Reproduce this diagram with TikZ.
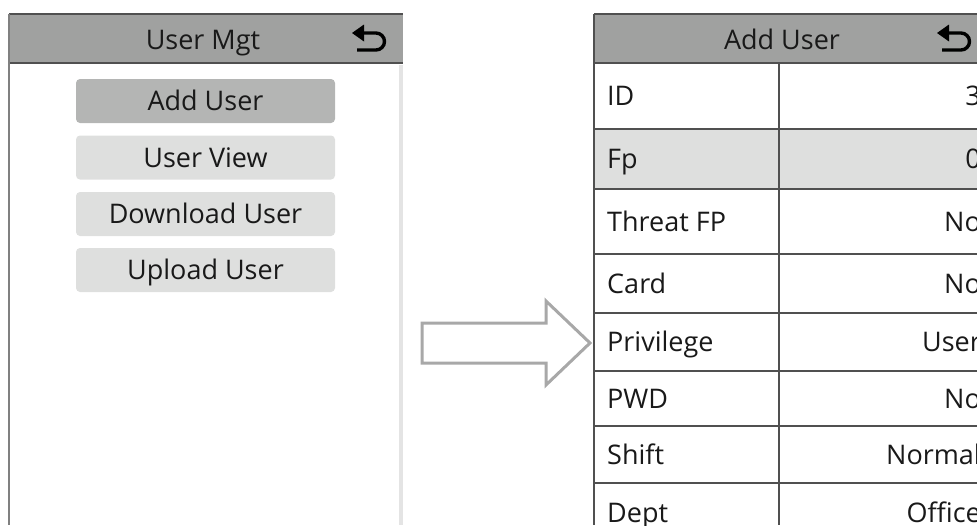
\documentclass[tikz,border=0pt]{standalone}
\usepackage{fontspec}
\setmainfont{Open Sans}
\usetikzlibrary{calc}
\definecolor{hdrgray}{RGB}{160,161,160}
\definecolor{selgray}{RGB}{180,181,180}
\definecolor{btngray}{RGB}{222,223,222}
\definecolor{rulegray}{RGB}{80,80,80}
\definecolor{arrowgray}{RGB}{168,168,168}
\definecolor{edgegray}{RGB}{228,228,228}
\definecolor{inkgray}{RGB}{25,25,25}
\newcommand{\backicon}[1]{%
  \fill (#1) -- ++(12,-8.5) -- ++(0,17) -- cycle;
  \draw[line width=3.4pt] ($(#1)+(10,0)$) -- ++(14,0) arc(-90:90:8.5) -- ++(-19,0);}
\begin{document}
\begin{tikzpicture}[x=1pt,y=-1pt,
    font=\fontsize{27}{32}\selectfont, text=inkgray,
    txt/.style={text height=19.3pt, text depth=0pt, inner sep=0pt},
    btn/.style={txt, rounded corners=4pt, minimum width=259pt, minimum height=44pt, fill=btngray},
    hdrline/.style={rulegray, line width=2.2pt},
    cell/.style={rulegray, line width=2pt}]
  \useasboundingbox (0,0) rectangle (977,525);
  \clip (0,0) rectangle (977,525);
  % left screen
  \fill[hdrgray] (9,14) rectangle (403,63);
  \draw[hdrline] (9,14) -- (403,14);
  \draw[hdrline] (9,63) -- (403,63);
  \draw[gray, line width=1.6pt] (9,14) -- (9,525);
  \draw[edgegray, line width=4pt] (401,65) -- (401,525);
  \node[txt] (mgt) at (203,40) {User Mgt};
  \coordinate (backl) at (352,33);
  \backicon{backl}
  \node[btn, fill=selgray] (btn0) at (205.5,101) {Add User};
  \node[btn] (btn1) at (205.5,157.5) {User View};
  \node[btn] (btn2) at (205.5,214) {Download User};
  \node[btn] (btn3) at (205.5,270) {Upload User};
  % big arrow
  \draw[arrowgray, line width=3pt, line join=miter] (422,323) -- (546,323) -- (546,301)
    -- (590,343) -- (546,385) -- (546,363) -- (422,363) -- cycle;
  % right screen
  \fill[hdrgray] (594,14) rectangle (977,63);
  \fill[btngray] (594,129) rectangle (977,189);
  \draw[hdrline] (594,14) -- (977,14);
  \draw[hdrline] (594,63) -- (977,63);
  \node[txt] (add) at (782,40) {Add User};
  \coordinate (backr) at (937,33);
  \backicon{backr}
  \foreach \ya/\yb/\lbl/\val [count=\i] in {63/129/ID/3, 129/189/Fp/0,
      189/254/Threat FP/No, 254/313/Card/No, 313/371/Privilege/User,
      371/426/PWD/No, 426/483/Shift/Normal, 483/543/Dept/Office}{
    \draw[cell] (594,\yb) -- (977,\yb);
    \node[txt, anchor=west] (lbl\i) at (607,{(\ya+\yb)/2}) {\lbl};
    \node[txt, anchor=east] (val\i) at (981,{(\ya+\yb)/2}) {\val};
  }
  \draw[rulegray, line width=2.4pt] (594,14) -- (594,525);
  \draw[cell] (779,63) -- (779,525);
\end{tikzpicture}
\end{document}
